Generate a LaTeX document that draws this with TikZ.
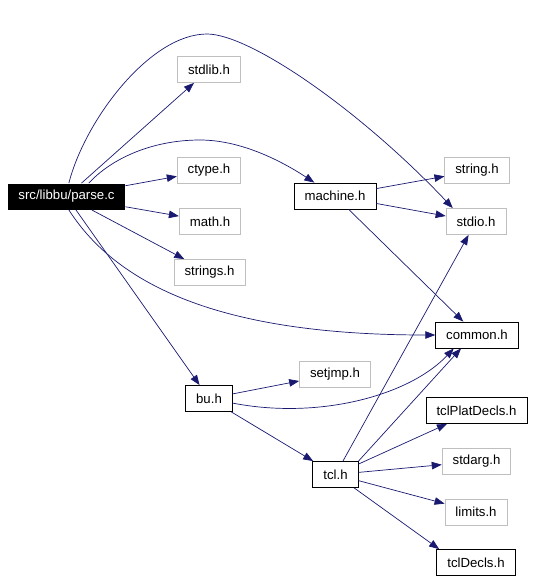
\documentclass[tikz,border=0pt]{standalone}
\usepackage{fontspec}
\setmainfont{Liberation Sans}
\usetikzlibrary{arrows.meta,positioning}
\definecolor{edgeblue}{HTML}{191970}
\definecolor{sysgray}{HTML}{BFBFBF}

\begin{document}
\begin{tikzpicture}[x=1pt,y=-1pt,
  box/.style={line width=0.8pt,minimum height=26pt,inner xsep=10.5pt,inner ysep=0pt,font=\fontsize{13.2}{15}\selectfont},
  sys/.style={box,draw=sysgray},
  loc/.style={box,draw=black},
  src/.style={box,fill=black,text=white},
  dep/.style={draw=edgeblue,line width=0.7pt,-{Triangle[length=10pt,width=7.5pt]}}]
\useasboundingbox (0,0) rectangle (533,581);
% the file itself
\node[src] (parse) at (66.5,196.5) {src/libbu/parse.c};
% system headers
\node[sys] (stdlib) at (209,69.5) {stdlib.h};
\node[sys] (ctype) at (209,170.5) {ctype.h};
\node[sys] (math) at (210,221.5) {math.h};
\node[sys] (strings) at (209.5,272.5) {strings.h};
\node[sys] (string) at (477,170.5) {string.h};
\node[sys] (stdio) at (476,221.5) {stdio.h};
\node[sys] (setjmp) at (335,374) {setjmp.h};
\node[sys] (stdarg) at (476.5,461.5) {stdarg.h};
\node[sys] (limits) at (476,512) {limits.h};
% project headers
\node[loc] (machine) at (335,196) {machine.h};
\node[loc] (common) at (477,335) {common.h};
\node[loc] (bu) at (209,398.5) {bu.h};
\node[loc] (tcl) at (335.5,474.5) {tcl.h};
\node[loc] (tclplat) at (476.5,410.5) {tclPlatDecls.h};
\node[loc] (tcldecls) at (476,562.5) {tclDecls.h};
% includes of parse.c
\draw[dep] (parse) -- (stdlib);
\draw[dep] (parse) -- (ctype);
\draw[dep] (parse) -- (math);
\draw[dep] (parse) -- (strings);
\draw[dep] (parse) -- (bu);
\draw[dep] (parse.80) .. controls (85,120) and (150,34) .. (207,34) .. controls (250,34) and (360,110) .. (stdio.150);
\draw[dep] (parse.31) .. controls (110,160) and (150,140) .. (200,140) .. controls (240,140) and (280,160) .. (machine.147);
\draw[dep] (parse.-80) .. controls (120,290) and (230,335) .. (common.west);
% machine.h
\draw[dep] (machine) -- (string);
\draw[dep] (machine) -- (stdio);
\draw[dep] (machine) -- (common);
% bu.h
\draw[dep] (bu) -- (setjmp);
\draw[dep] (bu.-11) .. controls (320,420) and (410,395) .. (common.-150);
\draw[dep] (bu) -- (tcl);
% tcl.h
\draw[dep] (tcl) -- (stdio);
\draw[dep] (tcl.north east) -- (common.-140);
\draw[dep] (tcl) -- (tclplat);
\draw[dep] (tcl) -- (stdarg);
\draw[dep] (tcl) -- (limits);
\draw[dep] (tcl) -- (tcldecls.160);
\end{tikzpicture}
\end{document}
